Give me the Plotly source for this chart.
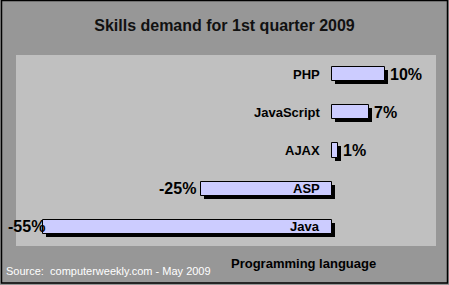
import plotly.graph_objects as go

# ---- data ----
languages = ["PHP", "JavaScript", "AJAX", "ASP", "Java"]
changes = [10, 7, 1, -25, -55]
value_labels = ["10%", "7%", "1%", "-25%", "-55%"]
title_text = "Skills demand for 1st quarter 2009"
axis_title = "Programming language"
source_text = "Source:  computerweekly.com - May 2009"

# ---- layout geometry ----
W, H = 449, 285
ML, MR, MT, MB = 16, 13, 55, 39
PW, PH = W - ML - MR, H - MT - MB
X_RANGE = [-60.2, 19.7]
N = len(languages)
Y_RANGE = [N - 0.5, -0.5]
px_per_x = PW / (X_RANGE[1] - X_RANGE[0])
px_per_y = PH / N
SH = 3  # shadow offset in px

FONT = "Liberation Sans, Arial, sans-serif"

fig = go.Figure()

# shadow bars (same data, on shifted primary axes, drawn first)
fig.add_trace(go.Bar(
    y=languages, x=changes, orientation="h", width=0.37,
    marker=dict(color="#000000", line=dict(width=0)),
    hoverinfo="skip", showlegend=False,
))
# main bars on overlay axes with the true range
fig.add_trace(go.Bar(
    y=languages, x=changes, orientation="h", width=0.37,
    marker=dict(color="#ccccff", line=dict(color="#000000", width=1)),
    xaxis="x2", yaxis="y2", showlegend=False,
))

ann = []
for lang, v, lab in zip(languages, changes, value_labels):
    ann.append(dict(x=0, y=lang, xref="x2", yref="y2", text="<b>%s</b>" % lang,
                    showarrow=False, xanchor="right", yanchor="middle",
                    xshift=-10, font=dict(family=FONT, size=13, color="#000")))
    if v >= 0:
        ann.append(dict(x=v, y=lang, xref="x2", yref="y2", text="<b>%s</b>" % lab,
                        showarrow=False, xanchor="left", yanchor="middle",
                        xshift=3, font=dict(family=FONT, size=16, color="#000")))
    else:
        shift = -3
        left_px = ML + (v - X_RANGE[0]) * px_per_x
        if left_px - 45 < 0:
            shift = 4
        ann.append(dict(x=v, y=lang, xref="x2", yref="y2", text="<b>%s</b>" % lab,
                        showarrow=False, xanchor="right", yanchor="middle",
                        xshift=shift, font=dict(family=FONT, size=16, color="#000")))

ann.append(dict(x=(303 - ML) / PW, y=(MT + PH - 263) / PH, xref="paper", yref="paper",
                text="<b>%s</b>" % axis_title, showarrow=False,
                xanchor="center", yanchor="middle",
                font=dict(family=FONT, size=13, color="#000")))
ann.append(dict(x=(4 - ML) / PW, y=(MT + PH - 271) / PH, xref="paper", yref="paper",
                text=source_text, showarrow=False,
                xanchor="left", yanchor="middle",
                font=dict(family=FONT, size=11, color="#ffffff")))

dx = SH / px_per_x
dy = SH / px_per_y

axis_common = dict(showgrid=False, zeroline=False, showticklabels=False,
                   ticks="", showline=False, fixedrange=True)

fig.update_layout(
    width=W, height=H,
    margin=dict(l=ML, r=MR, t=MT, b=MB, pad=0),
    paper_bgcolor="#979797",
    plot_bgcolor="#c0c0c0",
    title=dict(text="<b>%s</b>" % title_text, x=0.5, xanchor="center",
               y=1 - 25 / H, yanchor="middle", xref="container", yref="container",
               font=dict(family=FONT, size=16, color="#111")),
    xaxis=dict(range=[X_RANGE[0] - dx, X_RANGE[1] - dx], **axis_common),
    yaxis=dict(range=[Y_RANGE[0] - dy, Y_RANGE[1] - dy], type="category",
               categoryorder="array", categoryarray=languages, **axis_common),
    xaxis2=dict(range=X_RANGE, overlaying="x", **axis_common),
    yaxis2=dict(range=Y_RANGE, type="category", categoryorder="array",
                categoryarray=languages, overlaying="y", **axis_common),
    annotations=ann,
    shapes=[dict(type="rect", xref="paper", yref="paper",
                 x0=(1.5 - ML) / PW, x1=(447.5 - ML) / PW,
                 y0=(MT + PH - 283) / PH, y1=(MT + PH - 0.5) / PH,
                 line=dict(color="#000", width=1.5), fillcolor="rgba(0,0,0,0)",
                 layer="above")],
    bargap=0,
)

fig.write_html("out.html", include_plotlyjs=True, config={"displayModeBar": False})
